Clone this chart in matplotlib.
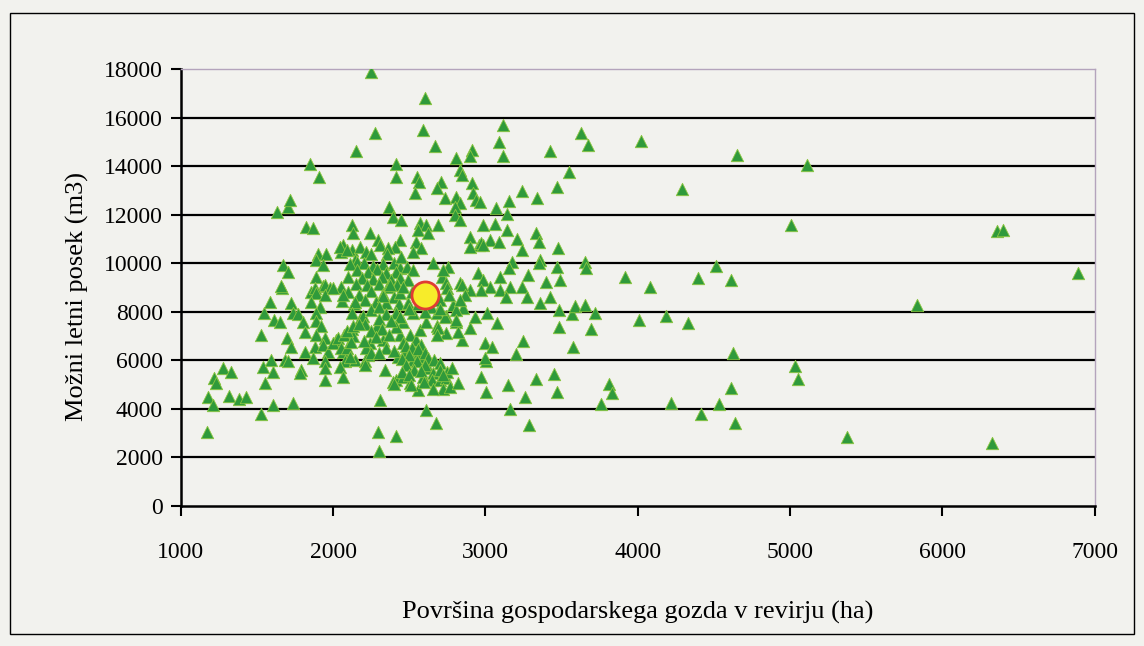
import matplotlib
matplotlib.use('Agg')
from matplotlib import pyplot as plt
from matplotlib.patches import Rectangle

# površina gospodarskega gozda (ha) / možni letni posek (m3)
area_ha = [
    1170, 1180, 1212, 1219, 1234, 1278, 1317, 1332, 1383, 1431,
    1530, 1551, 1540, 1594, 1605, 1606, 1737, 1530, 1547, 1585,
    1612, 1650, 1667, 1672, 1705, 1661, 1683, 1705, 1698, 1726,
    1726, 1737, 1771, 1804, 1792, 1782, 1632, 1705, 1716, 1814,
    1814,
    # upper
    1825, 1869, 1847, 1908, 2149, 2248, 2274, 2591, 2602, 2672,
    2416, 2416, 2548, 2563, 2536, 2711, 2679, 2733, 2810, 2832,
    2843, 2909, 2900, 2909, 2920, 2941, 2810, 2832, 2799, 2366,
    2394, 2448, 2799, 2832, 2121, 2132, 3116, 3090, 3116, 3626,
    3674, 4024, 3423, 4652, 3550, 3473, 3243, 3340, 3156, 4291,
    3068, 2963, 3144, 3062, 2985, 3144, 5003, 5113, 6355, 6398,
    6887, 5833,
    # right
    3208, 3335, 3353, 3030, 3087, 2960, 3479, 3241, 3176, 3157,
    3357, 3350, 3652, 3659, 3915, 4080, 4398, 4513, 4615, 3007,
    3073, 3485, 3565, 3587, 3653, 3718, 3485, 3692, 4010, 4184,
    4331, 3248, 2996, 3040, 3200, 3575, 4622, 3003, 5035, 5053,
    2974, 3145, 3335, 3449, 3467, 3003, 3259, 3812, 3828, 3758,
    3160, 3287, 4215, 4412, 4535, 4615, 4637, 5371, 6325,
    2898, 2974, 2898, 2952, 2985, 3029, 2974, 3094, 3094, 3160,
    3138, 3237, 3270, 3281, 3400, 3423, 3488, 3467, 3357,
    # dense middle
    2241, 2296, 2307, 2438, 2405, 2547, 2580, 2525, 2657, 2756,
    2712, 2985, 2066, 2055, 1902, 1956, 1891, 1934, 2121, 2175,
    2219, 2252, 2361, 1891, 1934, 2143,
    2569, 2613, 2558, 2624, 2690,
    1945, 1978, 1858, 2044, 2088, 2351, 2154,
    2110, 2200, 2260, 2330, 2400, 2440, 2160, 2230, 2290, 2350,
    2410, 2100, 2190, 2260, 2320, 2380, 2440, 2150, 2220, 2300,
    2360, 2420, 2050, 2100, 2170, 2250, 2330, 2400, 2060, 2140,
    2210, 2280, 2350, 2430,
    1880, 1891, 1945, 2000, 1858, 1913, 1891, 1891, 1923, 1891,
    1945, 1880, 1934, 1967, 1869, 1945, 1945, 1945, 2022, 2066,
    2077, 2044, 2066, 2143, 2121, 2175, 2121, 2132, 2197, 2208,
    2252, 2285, 2143, 2208, 2230, 2241, 2219, 2329, 2340, 2066,
    2329, 2373, 2438, 2493, 2525, 2416, 2460,
    2438, 2503, 2547, 2460, 2471, 2427, 2547, 2591, 2525, 2569,
    2580, 2416, 2460, 2503, 2558, 2591, 2624, 2657, 2646, 2700,
    2744, 2722, 2766, 2820, 2613, 2679, 2744, 2810, 2679, 2788,
    2854, 2898, 2843, 2744, 2832, 2744, 2898, 2996,
    2000, 2030, 2070, 2050, 2090, 2120, 2110, 2208, 2252, 2394,
    2090, 2130, 2438, 2416,
    2930, 2821, 2810, 2810, 2690, 2679, 2733, 2613,
    2480, 2520, 2560, 2600, 2620, 2660, 2700, 2500, 2450, 2550,
    2600, 2700, 2750, 2480, 2530, 2580, 2450, 2500, 2780, 2720,
    2400, 2514, 2595, 2657,
    2296, 2416, 2300, 2311, 2674,
    2300, 2350, 2380, 2300, 2250, 2320, 2370, 2280, 2200, 2350,
    2300, 2400, 2170,
    2449, 2722, 2482, 2525, 2493, 2745, 2843, 2865, 2832, 2460,
    2520, 2560, 2640, 2700, 2760, 2500, 2600, 2700,
]
cut_m3 = [
    3030, 4500, 4160, 5260, 5060, 5670, 4540, 5530, 4410, 4500,
    3800, 5050, 5740, 6010, 5500, 4160, 4230, 7040, 7960, 8410,
    7660, 7590, 8970, 9920, 9650, 9040, 6010, 5950, 6900, 6560,
    8350, 7960, 7900, 7560, 5600, 5470, 12120, 12330, 12600, 7180,
    6360,
    # upper
    11500, 11440, 14085, 13560, 14630, 17890, 15375, 15490, 16830, 14830,
    14085, 13560, 13560, 13360, 12880, 13360, 13080, 12670, 14320, 13840,
    13630, 14660, 14400, 13290, 12880, 12600, 12740, 12470, 12330, 12330,
    11920, 11780, 11990, 11780, 11570, 11230, 15690, 15000, 14415, 15375,
    14870, 15030, 14630, 14480, 13770, 13130, 12970, 12670, 12560, 13040,
    12260, 12530, 12010, 11610, 11590, 11370, 11570, 14040, 11320, 11370,
    9610, 8280,
    # right
    11000, 11230, 10890, 10960, 10890, 10750, 10640, 10540, 10060, 9790,
    10130, 10000, 10060, 9790, 9440, 9030, 9380, 9880, 9310, 7940,
    7530, 8070, 7900, 8240, 8280, 7940, 7380, 7290, 7660, 7830,
    7550, 6800, 6700, 6560, 6260, 6560, 6310, 5970, 5770, 5220,
    5330, 4980, 5220, 5440, 4710, 4710, 4500, 5030, 4640, 4190,
    4000, 3340, 4230, 3790, 4190, 4870, 3400, 2850, 2580,
    11090, 10820, 10680, 9580, 9310, 9030, 8900, 9450, 8900, 9030,
    8620, 9030, 8620, 9510, 9240, 8620, 9310, 9860, 8350,
    # dense middle
    11230, 10960, 10750, 10960, 10680, 10890, 10610, 10470, 9990, 9860,
    9450, 10750, 10750, 10470, 10400, 10400, 10130, 9920, 10540, 10680,
    10470, 10400, 10610, 9450, 9040, 10130,
    11640, 11570, 11370, 11230, 11570,
    9100, 8970, 8830, 10680, 10540, 10400, 10060,
    9950, 10000, 9900, 9950, 10000, 9800, 9700, 9650, 9750, 9600,
    9650, 9450, 9400, 9350, 9450, 9300, 9400, 9150, 9100, 9150,
    9000, 9100, 9000, 8800, 8700, 8850, 8750, 8600, 8450, 8300,
    8500, 8400, 8350, 8300,
    8970, 8760, 8700, 8970, 8410, 8210, 7960, 7620, 7400, 7040,
    6900, 6560, 6630, 6360, 6080, 5950, 5670, 5190, 6840, 6360,
    5950, 5740, 5330, 8410, 7960, 7690, 7270, 7000, 7830, 7490,
    8090, 7420, 6010, 5950, 6220, 6700, 6490, 6840, 5600, 8700,
    8630, 9110, 8770, 8350, 7960, 7960, 7560,
    7040, 7040, 6840, 6700, 6360, 6150, 6360, 6150, 6010, 7250,
    6630, 5190, 5330, 5050, 4760, 5330, 5670, 5470, 5190, 5190,
    5260, 4830, 4900, 5050, 7560, 7420, 7830, 7560, 7960, 8280,
    8140, 7350, 6840, 7110, 9180, 9180, 8900, 6080,
    6700, 6900, 7050, 6500, 6500, 6750, 6150, 5800, 6290, 5120,
    7200, 7400, 7800, 7380,
    7800, 7180, 8080, 7670, 7320, 7040, 7800, 3950,
    6600, 6500, 6450, 6300, 6100, 6000, 5900, 6200, 6050, 5950,
    5800, 5600, 5500, 5800, 5600, 5550, 5500, 5400, 5700, 5400,
    5030, 4980, 5120, 4810,
    3060, 2880, 2240, 4370, 3430,
    8200, 7900, 7600, 7700, 7200, 7300, 7050, 6950, 6800, 6500,
    6300, 6400, 7500,
    10270, 9720, 9860, 9720, 9310, 8970, 9100, 8690, 8490, 9000,
    8800, 8300, 8200, 8500, 8700, 8100, 8000, 8100,
]

# highlighted revir
mark_ha = [2602]
mark_m3 = [8690]

plt.rcParams['font.family'] = ['Liberation Serif', 'DejaVu Serif']
bg = '#f2f2ee'

fig = plt.figure(figsize=(11.44, 6.46), dpi=100)
fig.patch.set_facecolor(bg)
ax = fig.add_axes([0.158, 0.217, 0.799, 0.676])
ax.set_facecolor(bg)

ax.set_xlim(1000, 7000)
ax.set_ylim(0, 18000)
ax.set_xticks(range(1000, 7001, 1000))
ax.set_yticks(range(0, 18001, 2000))

for gy in range(2000, 18000, 2000):
    ax.axhline(gy, color='black', lw=1.6, zorder=1)

ax.scatter(area_ha, cut_m3, marker='^', s=80, facecolor='#2f9a3b',
           edgecolor='#8cc63f', linewidth=0.6, zorder=3)
ax.scatter(mark_ha, mark_m3, marker='o', s=380, facecolor='#f7ec2a',
           edgecolor='#e03c33', linewidth=2, zorder=4)

for s in ['left', 'bottom']:
    ax.spines[s].set_color('black')
    ax.spines[s].set_linewidth(1.8)
for s in ['top', 'right']:
    ax.spines[s].set_color('#b4a4bc')
    ax.spines[s].set_linewidth(1.0)

ax.tick_params(direction='out', length=7, width=1.5, labelsize=17, pad=6,
               colors='black')
ax.tick_params(axis='x', pad=19)
ax.set_ylabel('Možni letni posek (m3)', fontsize=19)
ax.set_xlabel('Površina gospodarskega gozda v revirju (ha)', fontsize=19)
ax.yaxis.set_label_coords(-0.100, 0.48)
ax.xaxis.set_label_coords(0.5, -0.218)

fig.add_artist(Rectangle((10 / 1144, 1 - 634 / 646), 1124 / 1144, 621 / 646,
                         transform=fig.transFigure, fill=False,
                         edgecolor='black', lw=1.0))

plt.savefig('out.png', dpi=100, facecolor=bg)
